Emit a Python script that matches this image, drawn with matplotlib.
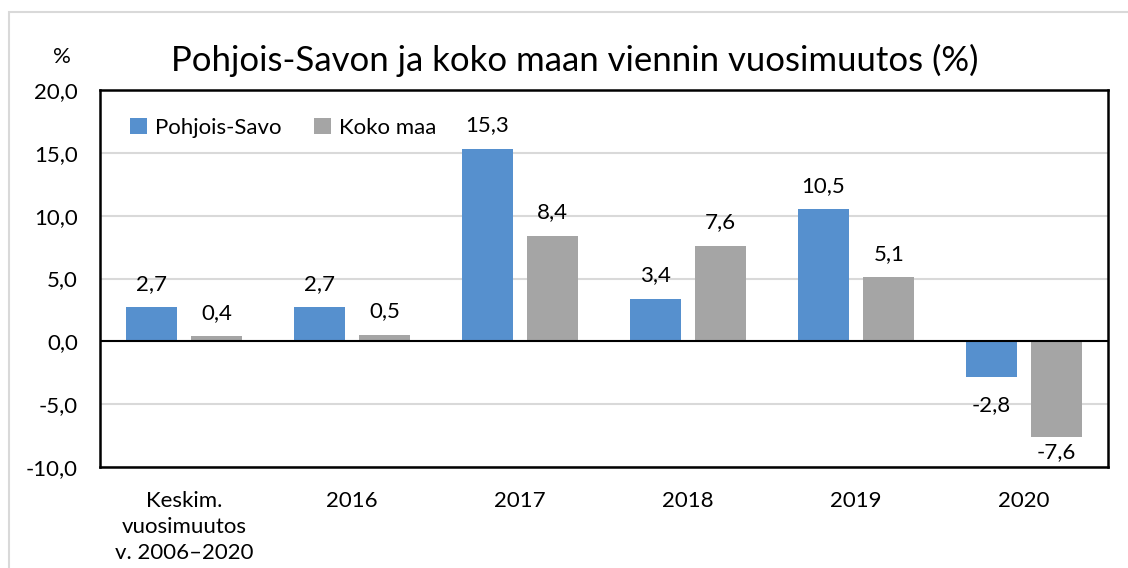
import matplotlib
matplotlib.use("Agg")
import matplotlib.pyplot as plt
import numpy as np
from matplotlib.patches import Rectangle

categories = ["Keskim.\nvuosimuutos\nv. 2006–2020", "2016", "2017", "2018", "2019", "2020"]
pohjois_savo = [2.7, 2.7, 15.3, 3.4, 10.5, -2.8]
koko_maa = [0.4, 0.5, 8.4, 7.6, 5.1, -7.6]
series_names = ["Pohjois-Savo", "Koko maa"]
yticks = [-10, -5, 0, 5, 10, 15, 20]
title = "Pohjois-Savon ja koko maan viennin vuosimuutos (%)"

plt.rcParams['font.family'] = ['Lato', 'DejaVu Sans']

W, H = 1128, 568
fig = plt.figure(figsize=(W/100, H/100), dpi=100)
fig.patches.append(Rectangle((9/W, -0.1), 1.2, 1 - 12/H + 0.1, transform=fig.transFigure,
                             fill=False, edgecolor='#d9d9d9', linewidth=1.5))
ax = fig.add_axes([100/W, 1 - 467/H, 1008/W, 377/H])

blue = '#5690CE'
gray = '#A5A5A5'
x = np.arange(len(categories))
bw = 0.305
off = 0.195
b1 = ax.bar(x - off, pohjois_savo, bw, color=blue, label=series_names[0], zorder=3)
b2 = ax.bar(x + off, koko_maa, bw, color=gray, label=series_names[1], zorder=3)

def fmt(v):
    return f"{v:.1f}".replace('.', ',')

fs = 16
for bars, vals in ((b1, pohjois_savo), (b2, koko_maa)):
    for r, v in zip(bars, vals):
        cx = r.get_x() + r.get_width()/2
        if v >= 0:
            ax.annotate(fmt(v), (cx, v), xytext=(0, 17), textcoords='offset points',
                        ha='center', va='center', fontsize=fs, zorder=4)
        else:
            yl = max(v - 2.31, -8.83)
            ax.text(cx, yl, fmt(v), ha='center', va='center', fontsize=fs, zorder=4)

ax.set_xlim(-0.5, len(categories) - 0.5)
ax.set_ylim(-10, 20)
ax.set_yticks(yticks)
ax.set_yticklabels([fmt(v) for v in yticks], fontsize=fs)
ax.set_xticks(x)
ax.set_xticklabels(categories, fontsize=fs, linespacing=1.4)
ax.tick_params(axis='both', length=0)
ax.tick_params(axis='y', pad=16)
ax.tick_params(axis='x', pad=17)
ax.grid(axis='y', color='#d9d9d9', linewidth=1.5, zorder=0)
ax.axhline(0, color='black', linewidth=1.5, zorder=4)
for s in ax.spines.values():
    s.set_linewidth(1.8)
    s.set_color('black')

leg = ax.legend(loc='upper left', ncol=2, frameon=False, fontsize=16,
                bbox_to_anchor=(0.01, 0.98), handlelength=0.75, handleheight=0.75,
                handletextpad=0.35, columnspacing=1.5)

fig.text(62/W, 1 - 57/H, "%", fontsize=fs, ha='center', va='center')
fig.text(575/W, 1 - 60/H, title, fontsize=25, ha='center', va='center')

fig.savefig("out.png", dpi=100)
